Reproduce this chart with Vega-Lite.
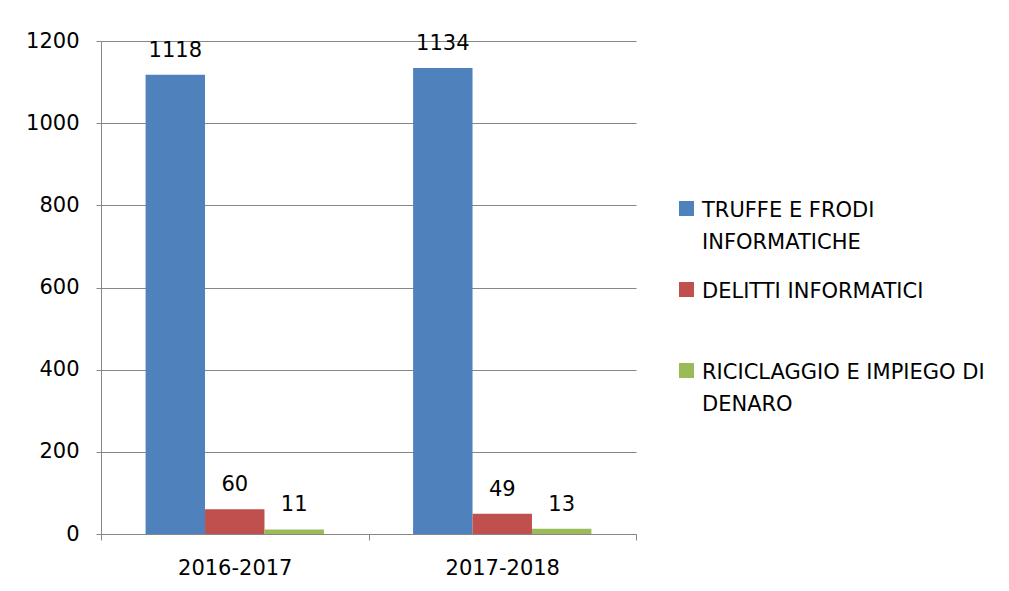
{
  "$schema": "https://vega.github.io/schema/vega-lite/v6.json",
  "autosize": {"type": "none"},
  "padding": {"left": 101, "top": 41, "right": 373, "bottom": 57},
  "width": 535,
  "height": 493,
  "background": "white",
  "config": {
    "view": {"stroke": null},
    "font": "DejaVu Sans",
    "axis": {"labelFont": "DejaVu Sans", "labelFontSize": 21, "labelColor": "#000000", "domainColor": "#868686", "tickColor": "#868686", "gridColor": "#868686"}
  },
  "data": {
    "values": [
      {"anno": "2016-2017", "serie": "TRUFFE E FRODI INFORMATICHE", "valore": 1118},
      {"anno": "2016-2017", "serie": "DELITTI INFORMATICI", "valore": 60},
      {"anno": "2016-2017", "serie": "RICICLAGGIO E IMPIEGO DI DENARO", "valore": 11},
      {"anno": "2017-2018", "serie": "TRUFFE E FRODI INFORMATICHE", "valore": 1134},
      {"anno": "2017-2018", "serie": "DELITTI INFORMATICI", "valore": 49},
      {"anno": "2017-2018", "serie": "RICICLAGGIO E IMPIEGO DI DENARO", "valore": 13}
    ]
  },
  "encoding": {
    "x": {
      "field": "anno", "type": "nominal",
      "scale": {"paddingInner": 0, "paddingOuter": 0},
      "axis": {"title": null, "labelAngle": 0, "tickBand": "extent", "tickSize": 6, "labelPadding": 17, "grid": false}
    },
    "xOffset": {
      "field": "serie", "type": "nominal",
      "scale": {"domain": ["TRUFFE E FRODI INFORMATICHE", "DELITTI INFORMATICI", "RICICLAGGIO E IMPIEGO DI DENARO"], "paddingInner": 0, "paddingOuter": 0.75}
    },
    "y": {
      "field": "valore", "type": "quantitative", "stack": null,
      "scale": {"domain": [0, 1200], "nice": false},
      "axis": {"title": null, "values": [0, 200, 400, 600, 800, 1000, 1200], "format": "d", "grid": true, "tickSize": 5, "labelPadding": 17}
    }
  },
  "layer": [
    {
      "mark": {"type": "bar"},
      "encoding": {
        "color": {
          "field": "serie", "type": "nominal",
          "scale": {"domain": ["TRUFFE E FRODI INFORMATICHE", "DELITTI INFORMATICI", "RICICLAGGIO E IMPIEGO DI DENARO"], "range": ["#4F81BD", "#C0504D", "#9BBB59"]},
          "legend": {
            "title": null,
            "orient": "none",
            "legendX": 575,
            "legendY": 157,
            "symbolType": "square",
            "symbolSize": 225,
            "symbolStrokeWidth": 0,
            "labelFont": "DejaVu Sans",
            "labelFontSize": 21,
            "labelColor": "#000000",
            "labelOffset": 5,
            "labelLimit": 400,
            "rowPadding": 26,
            "labelExpr": "datum.label == 'TRUFFE E FRODI INFORMATICHE' ? ['TRUFFE E FRODI', 'INFORMATICHE'] : datum.label == 'RICICLAGGIO E IMPIEGO DI DENARO' ? ['RICICLAGGIO E IMPIEGO DI', 'DENARO'] : [datum.label, ' ']",
            "labelBaseline": "top",
            "encode": {"labels": {"update": {"lineHeight": {"value": 32.5}, "dy": {"value": -9}}}}
          }
        }
      }
    },
    {
      "mark": {"type": "text", "font": "DejaVu Sans", "fontSize": 21, "color": "#000000", "baseline": "alphabetic", "dy": -18},
      "encoding": {"text": {"field": "valore", "type": "quantitative"}}
    }
  ]
}
